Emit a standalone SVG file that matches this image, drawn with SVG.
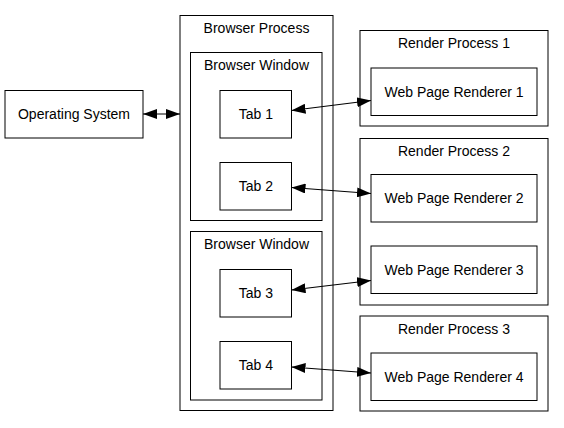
<svg xmlns="http://www.w3.org/2000/svg" width="564" height="428" viewBox="0 0 564 428">
<style>
.c{fill:none;stroke:#000;stroke-width:1}
.n{fill:#fff;stroke:#000;stroke-width:1}
text{font-family:"Liberation Sans",Arial,sans-serif;font-size:14px;fill:#000;text-anchor:middle}
.e{stroke:#000;stroke-width:1.2;fill:none;marker-start:url(#a);marker-end:url(#a)}
</style>
<defs>
<marker id="a" viewBox="0 0 14 10" refX="14" refY="5" markerWidth="14" markerHeight="10" markerUnits="userSpaceOnUse" orient="auto-start-reverse">
<path d="M0,0 L14,5 L0,10 z" fill="#000"/>
</marker>
</defs>
<rect width="564" height="428" fill="#fff"/>
<g id="browser_process">
<rect class="c" x="180" y="15.5" width="153" height="395"/>
<text x="256.5" y="33">Browser Process</text>
</g>
<g id="browser_window_1">
<rect class="c" x="190.5" y="52.5" width="131.5" height="168"/>
<text x="256.5" y="70">Browser Window</text>
</g>
<g id="browser_window_2">
<rect class="c" x="190.5" y="231.5" width="131.5" height="168.5"/>
<text x="256.5" y="249">Browser Window</text>
</g>
<g id="render_process_1">
<rect class="c" x="360" y="30.5" width="188" height="95.5"/>
<text x="454" y="48">Render Process 1</text>
</g>
<g id="render_process_2">
<rect class="c" x="360" y="138.5" width="188" height="166.5"/>
<text x="454" y="156">Render Process 2</text>
</g>
<g id="render_process_3">
<rect class="c" x="360" y="316" width="188" height="95"/>
<text x="454" y="333.5">Render Process 3</text>
</g>
<g id="os">
<rect class="n" x="5" y="90.5" width="138" height="47.5"/>
<text x="74" y="119">Operating System</text>
</g>
<g id="tab1">
<rect class="n" x="220" y="90.5" width="71.5" height="47.5"/>
<text x="255.8" y="119">Tab 1</text>
</g>
<g id="tab2">
<rect class="n" x="220" y="162.5" width="71.5" height="47.5"/>
<text x="255.8" y="191">Tab 2</text>
</g>
<g id="tab3">
<rect class="n" x="220" y="269.5" width="71.5" height="47.5"/>
<text x="255.8" y="298">Tab 3</text>
</g>
<g id="tab4">
<rect class="n" x="220" y="341.5" width="71.5" height="47.5"/>
<text x="255.8" y="370">Tab 4</text>
</g>
<g id="wpr1">
<rect class="n" x="371" y="68" width="166" height="47.5"/>
<text x="454" y="96.5">Web Page Renderer 1</text>
</g>
<g id="wpr2">
<rect class="n" x="371" y="174.5" width="166" height="47.5"/>
<text x="454" y="203">Web Page Renderer 2</text>
</g>
<g id="wpr3">
<rect class="n" x="371" y="246" width="166" height="47.5"/>
<text x="454" y="274.5">Web Page Renderer 3</text>
</g>
<g id="wpr4">
<rect class="n" x="371" y="353" width="166" height="47.5"/>
<text x="454" y="381.5">Web Page Renderer 4</text>
</g>
<g id="connectors">
<line class="e" x1="143" y1="114" x2="180" y2="114"/>
<line class="e" x1="291.5" y1="110.5" x2="371" y2="100.5"/>
<line class="e" x1="291.5" y1="187.5" x2="371" y2="193.5"/>
<line class="e" x1="291.5" y1="290" x2="371" y2="280.5"/>
<line class="e" x1="291.5" y1="367" x2="371" y2="373"/>
</g>
</svg>
